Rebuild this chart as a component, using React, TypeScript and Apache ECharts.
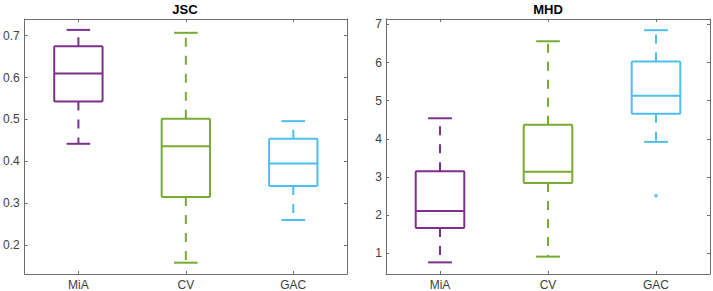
import React, { useEffect, useRef } from "react";
import * as echarts from "echarts";

const categories = ["MiA", "CV", "GAC"];
const colors = ["#7E2F8E", "#77AC30", "#4DBEEE"];

// JSC panel
const jscMin = [0.442, 0.158, 0.26];
const jscQ1 = [0.543, 0.315, 0.341];
const jscMedian = [0.61, 0.436, 0.395];
const jscQ3 = [0.675, 0.502, 0.454];
const jscMax = [0.714, 0.707, 0.496];

// MHD panel
const mhdMin = [0.76, 0.91, 3.92];
const mhdQ1 = [1.66, 2.84, 4.66];
const mhdMedian = [2.11, 3.14, 5.13];
const mhdQ3 = [3.15, 4.37, 6.03];
const mhdMax = [4.54, 6.56, 6.85];
const mhdOutliers: [number, number][] = [[2, 2.51]];

const jscTicks = [0.2, 0.3, 0.4, 0.5, 0.6, 0.7];
const mhdTicks = [1, 2, 3, 4, 5, 6, 7];

const FONT = "Liberation Sans, Arial, Helvetica, sans-serif";
const AXIS_COLOR = "#6e6e6e";
const LABEL_COLOR = "#404040";

function buildRows(mn: number[], q1: number[], md: number[], q3: number[], mx: number[]) {
  return categories.map((_, i) => [i, mn[i], q1[i], md[i], q3[i], mx[i]]);
}

function renderBox(params: any, api: any) {
  const idx = api.value(0);
  const c = colors[idx];
  const pMin = api.coord([idx, api.value(1)]);
  const pQ1 = api.coord([idx, api.value(2)]);
  const pMed = api.coord([idx, api.value(3)]);
  const pQ3 = api.coord([idx, api.value(4)]);
  const pMax = api.coord([idx, api.value(5)]);
  const x = pMed[0];
  const band = api.size([1, 0])[0];
  const bw = band * 0.45;
  const cw = band * 0.22;
  const solid = { stroke: c, lineWidth: 2, fill: "none" };
  const dashed = { stroke: c, lineWidth: 2, lineDash: [9, 9], fill: "none" };
  return {
    type: "group",
    children: [
      { type: "line", shape: { x1: x, y1: pQ3[1], x2: x, y2: pMax[1] }, style: dashed },
      { type: "line", shape: { x1: x, y1: pQ1[1], x2: x, y2: pMin[1] }, style: dashed },
      { type: "line", shape: { x1: x - cw / 2, y1: pMax[1], x2: x + cw / 2, y2: pMax[1] }, style: solid },
      { type: "line", shape: { x1: x - cw / 2, y1: pMin[1], x2: x + cw / 2, y2: pMin[1] }, style: solid },
      { type: "rect", shape: { x: x - bw / 2, y: pQ3[1], width: bw, height: pQ1[1] - pQ3[1], r: 1 }, style: solid },
      { type: "line", shape: { x1: x - bw / 2, y1: pMed[1], x2: x + bw / 2, y2: pMed[1] }, style: solid },
    ],
  };
}

function yAxes(gridIndex: number, min: number, max: number, ticks: number[], margin: number, fmt: (v: number) => string) {
  const common = {
    type: "value",
    gridIndex,
    min,
    max,
    splitLine: { show: false },
    axisLine: { show: true, lineStyle: { color: AXIS_COLOR, width: 1 } },
    axisTick: {
      show: true,
      inside: true,
      length: 3,
      lineStyle: { color: AXIS_COLOR },
      customValues: ticks,
    },
  };
  return [
    {
      ...common,
      position: "left",
      axisLabel: {
        show: true,
        margin,
        color: LABEL_COLOR,
        fontSize: 12,
        fontFamily: FONT,
        customValues: ticks,
        formatter: fmt,
      },
    },
    {
      ...common,
      position: "right",
      axisLabel: { show: false },
    },
  ];
}

function xAxes(gridIndex: number) {
  const common = {
    type: "category",
    gridIndex,
    data: categories,
    boundaryGap: true,
    splitLine: { show: false },
    axisLine: { show: true, lineStyle: { color: AXIS_COLOR, width: 1 } },
    axisTick: { show: true, inside: true, length: 3, alignWithLabel: true, lineStyle: { color: AXIS_COLOR } },
  };
  return [
    {
      ...common,
      position: "bottom",
      axisLabel: { show: true, margin: 5, color: LABEL_COLOR, fontSize: 12, fontFamily: FONT },
    },
    { ...common, position: "top", axisLabel: { show: false } },
  ];
}

export default function App() {
  const ref = useRef<HTMLDivElement>(null);
  useEffect(() => {
    if (!ref.current) return;
    const chart = echarts.init(ref.current, undefined, { renderer: "svg" });
    const option: any = {
      animation: false,
      backgroundColor: "#ffffff",
      grid: [
        { left: 23, right: 366, top: 19, bottom: 17 },
        { left: 386, right: 3, top: 19, bottom: 17 },
      ],
      xAxis: [...xAxes(0), ...xAxes(1)],
      yAxis: [
        ...yAxes(0, 0.131, 0.74, jscTicks, 5, (v: number) => v.toFixed(1)),
        ...yAxes(1, 0.455, 7.144, mhdTicks, 4, (v: number) => String(Math.round(v))),
      ],
      graphic: [
        {
          type: "text",
          x: 185,
          y: 9,
          style: { text: "JSC", fontSize: 13, fontWeight: "bold", fontFamily: FONT, fill: "#000", align: "center", verticalAlign: "middle" },
        },
        {
          type: "text",
          x: 548,
          y: 9,
          style: { text: "MHD", fontSize: 13, fontWeight: "bold", fontFamily: FONT, fill: "#000", align: "center", verticalAlign: "middle" },
        },
      ],
      series: [
        {
          type: "custom",
          xAxisIndex: 0,
          yAxisIndex: 0,
          renderItem: renderBox,
          encode: { x: 0, y: [1, 2, 3, 4, 5] },
          data: buildRows(jscMin, jscQ1, jscMedian, jscQ3, jscMax),
        },
        {
          type: "custom",
          xAxisIndex: 2,
          yAxisIndex: 2,
          renderItem: renderBox,
          encode: { x: 0, y: [1, 2, 3, 4, 5] },
          data: buildRows(mhdMin, mhdQ1, mhdMedian, mhdQ3, mhdMax),
        },
        {
          type: "scatter",
          xAxisIndex: 2,
          yAxisIndex: 2,
          symbol: "circle",
          symbolSize: 4,
          itemStyle: { color: colors[2] },
          data: mhdOutliers,
        },
      ],
    };
    chart.setOption(option);
    return () => chart.dispose();
  }, []);
  return <div ref={ref} style={{ position: "fixed", left: 0, top: 0, width: 713, height: 291 }} />;
}
